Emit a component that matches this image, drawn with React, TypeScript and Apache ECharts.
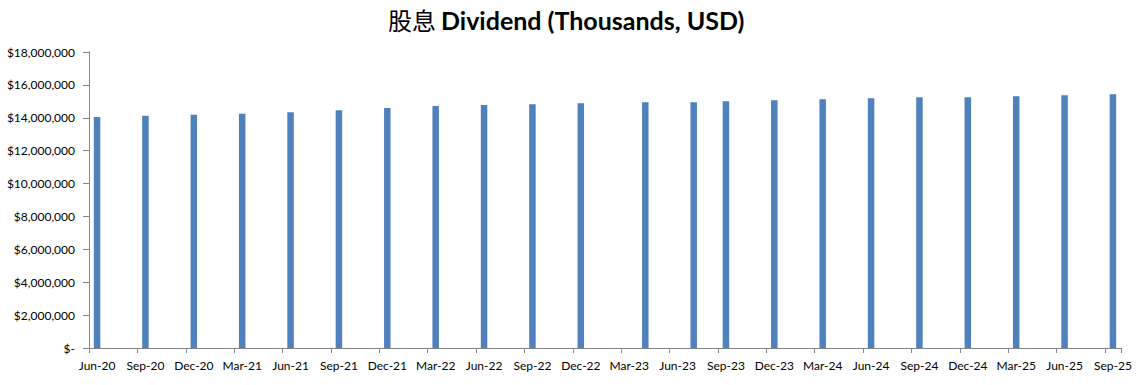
import React, { useEffect, useRef } from "react";
import * as echarts from "echarts";

// Monthly axis from Jun-20 to Sep-25 (Excel date axis, base unit = month)
const MONTH_NAMES = ["Jan", "Feb", "Mar", "Apr", "May", "Jun", "Jul", "Aug", "Sep", "Oct", "Nov", "Dec"];
const AXIS_START = { year: 2020, month: 5 }; // Jun-20
const AXIS_MONTHS = 64; // through Sep-25

// Reporting months and dividend values
const dividendMonths = [
  "Jun-20", "Sep-20", "Dec-20", "Mar-21", "Jun-21", "Sep-21", "Dec-21", "Mar-22",
  "Jun-22", "Sep-22", "Dec-22", "Apr-23", "Jul-23", "Sep-23", "Dec-23", "Mar-24",
  "Jun-24", "Sep-24", "Dec-24", "Mar-25", "Jun-25", "Sep-25",
];
const dividendValues = [
  14040000, 14120000, 14180000, 14240000, 14340000, 14460000, 14590000, 14710000,
  14770000, 14830000, 14890000, 14950000, 14950000, 15010000, 15070000, 15130000,
  15190000, 15250000, 15250000, 15310000, 15370000, 15430000,
];

const yMin = 0;
const yMax = 18000000;
const yInterval = 2000000;

function buildMonthCategories(): string[] {
  const out: string[] = [];
  for (let i = 0; i < AXIS_MONTHS; i++) {
    const m = (AXIS_START.month + i) % 12;
    const y = AXIS_START.year + Math.floor((AXIS_START.month + i) / 12);
    out.push(`${MONTH_NAMES[m]}-${String(y % 100).padStart(2, "0")}`);
  }
  return out;
}

export default function App() {
  const ref = useRef<HTMLDivElement>(null);

  useEffect(() => {
    if (!ref.current) return;
    const chart = echarts.init(ref.current, undefined, { renderer: "svg" });
    const categories = buildMonthCategories();
    const valueByMonth: Record<string, number> = {};
    dividendMonths.forEach((m, i) => (valueByMonth[m] = dividendValues[i]));
    const seriesData = categories.map((c) => (c in valueByMonth ? valueByMonth[c] : "-"));

    const labelFont = "Lato, 'Open Sans', sans-serif";

    chart.setOption({
      animation: false,
      backgroundColor: "#ffffff",
      title: {
        text: "{cjk|股息} {en|Dividend (Thousands, USD)}",
        left: 383,
        top: 2,
        textStyle: {
          rich: {
            cjk: {
              fontFamily: "'Noto Sans CJK SC', sans-serif",
              fontSize: 24,
              fontWeight: "normal",
              color: "#000000",
            },
            en: {
              fontFamily: labelFont,
              fontSize: 25,
              fontWeight: "bold",
              color: "#000000",
            },
          },
        },
      },
      grid: {
        left: 89,
        right: 26,
        top: 52,
        bottom: 37,
        containLabel: false,
      },
      xAxis: {
        type: "category",
        data: categories,
        boundaryGap: true,
        axisLine: { show: true, lineStyle: { color: "#868686", width: 1 } },
        axisTick: {
          show: true,
          interval: 2,
          alignWithLabel: false,
          length: 5,
          lineStyle: { color: "#868686" },
        },
        axisLabel: {
          interval: 2,
          margin: 11,
          fontFamily: labelFont,
          fontSize: 12,
          color: "#000000",
        },
        splitLine: { show: false },
      },
      yAxis: {
        type: "value",
        min: yMin,
        max: yMax,
        interval: yInterval,
        axisLine: { show: true, lineStyle: { color: "#868686", width: 1 } },
        axisTick: { show: true, length: 6, lineStyle: { color: "#868686" } },
        axisLabel: {
          margin: 14,
          fontFamily: labelFont,
          fontSize: 12,
          color: "#000000",
          formatter: (v: number) => (v === 0 ? "$-" : "$" + v.toLocaleString("en-US")),
        },
        splitLine: { show: false },
      },
      series: [
        {
          type: "bar",
          data: seriesData,
          barWidth: 6.5,
          itemStyle: { color: "#4F81BD" },
        },
      ],
    });

    return () => chart.dispose();
  }, []);

  return (
    <div
      ref={ref}
      style={{ position: "fixed", left: 0, top: 0, width: 1147, height: 385 }}
    />
  );
}
